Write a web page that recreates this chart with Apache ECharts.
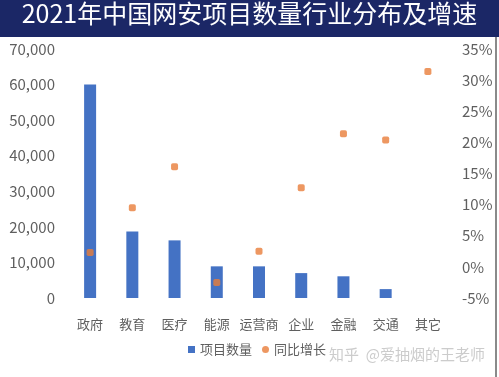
<!DOCTYPE html>
<html>
<head>
<meta charset="utf-8">
<script src="https://cdn.jsdelivr.net/npm/echarts@6/dist/echarts.min.js"></script>
<style>
  html, body { margin: 0; padding: 0; background: #fff; }
  #main { width: 499px; height: 377px; }
</style>
</head>
<body>
<div id="main"></div>
<script>
// 数据区
var categories = ['政府', '教育', '医疗', '能源', '运营商', '企业', '金融', '交通', '其它'];
var projectCount = [60000, 18700, 16200, 8900, 8900, 7000, 6100, 2500, null];
var growthRate = [2.3, 9.5, 16.1, -2.5, 2.5, 12.7, 21.4, 20.4, 31.4];

var FONT = '"Noto Sans CJK SC", "Noto Sans", sans-serif';
var GRAY = '#5f5f5f';

var chart = echarts.init(document.getElementById('main'));

chart.setOption({
    animation: false,
    textStyle: { fontFamily: FONT },
    graphic: [
        {
            type: 'rect',
            shape: { x: 0, y: 0, width: 499, height: 37 },
            style: { fill: '#1b2766' }
        },
        {
            type: 'text',
            left: 'center',
            top: 1,
            style: {
                text: '2021年中国网安项目数量行业分布及增速',
                fill: '#fff',
                font: '25px ' + FONT
            }
        },
        {
            type: 'rect',
            shape: { x: 495, y: 37, width: 2, height: 340 },
            style: { fill: '#8a8a8a' }
        },
        {
            type: 'text',
            right: 14,
            top: 347,
            style: {
                text: '知乎  @爱抽烟的王老师',
                fill: '#cccccc',
                font: '15px ' + FONT
            }
        }
    ],
    legend: {
        bottom: 16,
        left: 183,
        itemWidth: 7,
        itemHeight: 7,
        itemGap: 10,
        textStyle: { color: GRAY, fontSize: 13, fontFamily: FONT },
        data: [
            { name: '项目数量', icon: 'rect' },
            { name: '同比增长', icon: 'circle' }
        ]
    },
    grid: { left: 69, right: 50, top: 49, bottom: 79 },
    xAxis: {
        type: 'category',
        data: categories,
        axisLine: { show: false },
        axisTick: { show: false },
        axisLabel: { color: GRAY, fontSize: 13, margin: 20, interval: 0 }
    },
    yAxis: [
        {
            type: 'value',
            min: 0,
            max: 70000,
            interval: 10000,
            splitLine: { show: false },
            axisLabel: {
                color: GRAY,
                fontSize: 15,
                margin: 14,
                formatter: function (v) { return v.toLocaleString('en-US'); }
            }
        },
        {
            type: 'value',
            min: -5,
            max: 35,
            interval: 5,
            splitLine: { show: false },
            axisLabel: {
                color: GRAY,
                fontSize: 15,
                margin: 13,
                formatter: '{value}%'
            }
        }
    ],
    series: [
        {
            name: '项目数量',
            type: 'bar',
            data: projectCount,
            barWidth: 12,
            itemStyle: { color: '#4472c4' }
        },
        {
            name: '同比增长',
            type: 'scatter',
            yAxisIndex: 1,
            data: growthRate,
            symbol: 'roundRect',
            symbolSize: 7,
            itemStyle: { color: '#e87d3a' },
            z: 5
        }
    ]
});
</script>
</body>
</html>
